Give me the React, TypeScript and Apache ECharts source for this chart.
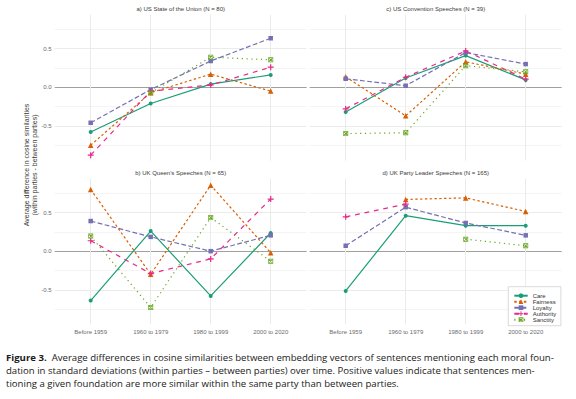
import React, { useEffect, useRef } from 'react';
import * as echarts from 'echarts';

// ---------- data ----------
const periods = ['Before 1959', '1960 to 1979', '1980 to 1999', '2000 to 2020'];
const foundations = ['Care', 'Fairness', 'Loyalty', 'Authority', 'Sanctity'];
// order of panels: top-left, top-right, bottom-left, bottom-right
const panelTitles = [
  'a) US State of the Union (N = 80)',
  'c) US Convention Speeches (N = 39)',
  "b) UK Queen's Speeches (N = 65)",
  'd) UK Party Leader Speeches (N = 165)',
];

// a) US State of the Union
const sotuCare = [-0.58, -0.21, 0.04, 0.16];
const sotuFairness = [-0.75, -0.07, 0.17, -0.05];
const sotuLoyalty = [-0.46, -0.03, 0.34, 0.635];
const sotuAuthority = [-0.88, -0.05, 0.03, 0.26];
const sotuSanctity = [null, -0.07, 0.39, 0.355];

// c) US Convention Speeches
const convCare = [-0.32, 0.12, 0.41, 0.095];
const convFairness = [0.135, -0.37, 0.33, 0.17];
const convLoyalty = [0.11, 0.02, 0.45, 0.3];
const convAuthority = [-0.28, 0.13, 0.47, 0.105];
const convSanctity = [-0.6, -0.59, 0.28, 0.2];

// b) UK Queen's Speeches
const queenCare = [-0.64, 0.26, -0.58, 0.235];
const queenFairness = [0.8, -0.3, 0.855, -0.02];
const queenLoyalty = [0.39, 0.185, 0.0, 0.205];
const queenAuthority = [0.135, -0.29, -0.1, 0.675];
const queenSanctity = [0.195, -0.73, 0.435, -0.13];

// d) UK Party Leader Speeches
const leaderCare = [-0.515, 0.46, 0.33, 0.33];
const leaderFairness = [null, 0.67, 0.69, 0.515];
const leaderLoyalty = [0.07, 0.57, 0.365, 0.205];
const leaderAuthority = [0.445, 0.61, null, null];
const leaderSanctity = [null, null, 0.155, 0.07];

const panelData = [
  [sotuCare, sotuFairness, sotuLoyalty, sotuAuthority, sotuSanctity],
  [convCare, convFairness, convLoyalty, convAuthority, convSanctity],
  [queenCare, queenFairness, queenLoyalty, queenAuthority, queenSanctity],
  [leaderCare, leaderFairness, leaderLoyalty, leaderAuthority, leaderSanctity],
];

const yTickValues = [-0.5, 0, 0.5];
const yTickLabels = ['-0.5', '0.0', '0.5'];
const yAxisTitle = 'Average difference in cosine similarities\n(within parties - between parties)';
const captionLines = [
  '{b|Figure 3.}  Average differences in cosine similarities between embedding vectors of sentences mentioning each moral foun-',
  'dation in standard deviations (within parties \u2013 between parties) over time. Positive values indicate that sentences men-',
  'tioning a given foundation are more similar within the same party than between parties.',
];

// ---------- styling ----------
const COLORS = ['#1B9E77', '#D95F02', '#7570B3', '#E7298A', '#66A61E'];
const LW = 1.2;
const DASHES: any[] = ['solid', [2.4, 2.4], [4.8, 2.4], [4.8, 4.8], [1.2, 3.6]];
const PLUS = 'path://M4,0H6V4H10V6H6V10H4V6H0V4H4Z';
const SQX =
  'path://M0,0H10V10H0Z M1.4,1.4V8.6H8.6V1.4Z M1.4,2.6L2.6,1.4L8.6,7.4L7.4,8.6Z M7.4,1.4L8.6,2.6L2.6,8.6L1.4,7.4Z';
const SYMBOLS = ['circle', 'triangle', 'rect', PLUS, SQX];
const SIZES = [4, 5.5, 4.5, 6, 5];
const FONT = 'Liberation Sans, Arial, sans-serif';
const CAP_FONT = 'Open Sans, Noto Sans, sans-serif';

const PANEL_W = 252;
const PANEL_H = 145.9;
const gridPos = [
  { left: 54.7, top: 14.7 },
  { left: 309.7, top: 14.7 },
  { left: 54.7, top: 178.6 },
  { left: 309.7, top: 178.6 },
];

const X_MIN = -0.6;
const X_MAX = 3.6;
const X_STEP = 0.2;
const Y_MIN = -0.95;
const Y_MAX = 0.94;
const Y_STEP = 0.05;

function xLineColors() {
  const out: string[] = [];
  const n = Math.round((X_MAX - X_MIN) / X_STEP);
  for (let k = 0; k <= n; k++) {
    const v = X_MIN + k * X_STEP;
    const r = Math.round(v);
    out.push(Math.abs(v - r) < 1e-6 && r >= 0 && r < periods.length ? '#ebebeb' : 'rgba(0,0,0,0)');
  }
  return out;
}
function yLineColors() {
  const out: string[] = [];
  const n = Math.floor((Y_MAX - Y_MIN) / Y_STEP + 1e-6);
  for (let k = 0; k <= n + 1; k++) {
    const v = Y_MIN + k * Y_STEP;
    const q = v * 4;
    if (Math.abs(v) < 1e-6) out.push('#a0a0a0');
    else if (Math.abs(q - Math.round(q)) < 1e-6) {
      out.push(Math.round(q) % 2 === 0 ? '#ebebeb' : '#f4f4f4');
    } else out.push('rgba(0,0,0,0)');
  }
  return out;
}

export default function App() {
  const ref = useRef<HTMLDivElement>(null);
  useEffect(() => {
    document.body.style.margin = '0';
    if (!ref.current) return;
    const chart = echarts.init(ref.current, null, { renderer: 'svg' });

    const xColors = xLineColors();
    const yColors = yLineColors();

    const grid = gridPos.map((g) => ({
      left: g.left,
      top: g.top,
      width: PANEL_W,
      height: PANEL_H,
      containLabel: false,
      outerBoundsMode: 'none',
    }));

    const xAxis = gridPos.map((_, i) => ({
      type: 'value',
      gridIndex: i,
      min: X_MIN,
      max: X_MAX,
      interval: X_STEP,
      axisLine: { show: false },
      axisTick: { show: false },
      splitLine: { show: true, lineStyle: { color: xColors, width: 1 } },
      axisLabel: {
        show: i >= 2,
        fontSize: 6,
        fontFamily: FONT,
        color: '#6b6b6b',
        margin: 4,
        formatter: (v: number) => {
          const r = Math.round(v);
          return Math.abs(v - r) < 1e-6 && r >= 0 && r < periods.length ? periods[r] : '';
        },
      },
    }));

    const yAxis = gridPos.map((_, i) => ({
      type: 'value',
      gridIndex: i,
      min: Y_MIN,
      max: Y_MAX,
      interval: Y_STEP,
      axisLine: { show: false },
      axisTick: { show: false },
      splitLine: { show: true, lineStyle: { color: yColors, width: 1 } },
      axisLabel: {
        show: i % 2 === 0,
        fontSize: 6,
        fontFamily: FONT,
        color: '#6b6b6b',
        margin: 3,
        formatter: (v: number) => {
          for (let t = 0; t < yTickValues.length; t++) {
            if (Math.abs(v - yTickValues[t]) < 1e-6) return yTickLabels[t];
          }
          return '';
        },
      },
    }));

    const series: any[] = [];
    panelData.forEach((panel, p) => {
      panel.forEach((vals, f) => {
        const data: any[] = [];
        vals.forEach((v, i) => {
          if (v !== null) data.push([i, v]);
        });
        series.push({
          type: 'line',
          name: foundations[f],
          xAxisIndex: p,
          yAxisIndex: p,
          data,
          symbol: SYMBOLS[f],
          symbolSize: SIZES[f],
          showAllSymbol: true,
          color: COLORS[f],
          itemStyle: { color: COLORS[f] },
          lineStyle: { color: COLORS[f], width: LW, type: DASHES[f] },
          z: 2 + f,
          silent: true,
        });
      });
    });

    const graphic: any[] = [];
    gridPos.forEach((g, i) => {
      graphic.push({
        type: 'text',
        x: g.left + PANEL_W / 2,
        y: g.top - 5.5,
        silent: true,
        style: {
          text: panelTitles[i],
          fontSize: 6,
          fontFamily: FONT,
          fill: '#3a3a3a',
          align: 'center',
          verticalAlign: 'middle',
        },
      });
    });
    graphic.push({
      type: 'text',
      x: 30.5,
      y: 165,
      rotation: Math.PI / 2,
      silent: true,
      style: {
        text: yAxisTitle,
        fontSize: 7,
        lineHeight: 8,
        fontFamily: FONT,
        fill: '#3a3a3a',
        align: 'center',
        verticalAlign: 'middle',
      },
    });
    captionLines.forEach((line, i) => {
      graphic.push({
        type: 'text',
        x: 6,
        y: 357.5 + i * 13,
        silent: true,
        style: {
          text: line,
          fontSize: 9.6,
          fontFamily: CAP_FONT,
          fill: '#1a1a1a',
          align: 'left',
          verticalAlign: 'middle',
          rich: {
            b: {
              fontSize: 9.6,
              fontWeight: 'bold',
              fontFamily: CAP_FONT,
              fill: '#1a1a1a',
            },
          },
        },
      });
    });

    chart.setOption({
      animation: false,
      backgroundColor: '#ffffff',
      grid,
      xAxis,
      yAxis,
      series,
      graphic,
      legend: {
        data: foundations,
        orient: 'vertical',
        left: 508.3,
        top: 286.7,
        padding: [6, 4.5, 3, 5],
        itemWidth: 13.4,
        itemHeight: 5.9,
        itemGap: 0,
        backgroundColor: '#ffffff',
        borderColor: '#cfcfcf',
        borderWidth: 0.8,
        textStyle: { fontSize: 6, lineHeight: 5.9, fontFamily: FONT, color: '#333333', padding: [0, 0, 0, 0] },
        selectedMode: false,
      },
    });
    return () => chart.dispose();
  }, []);
  return <div ref={ref} style={{ width: 576, height: 399 }} />;
}
